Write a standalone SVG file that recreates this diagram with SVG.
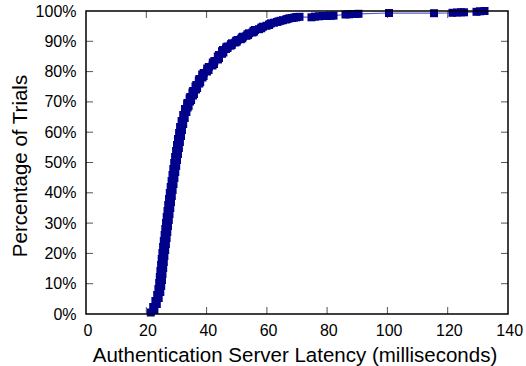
<svg xmlns="http://www.w3.org/2000/svg" width="526" height="366" viewBox="0 0 526 366">
<style>
text{font-family:"Liberation Sans",Arial,sans-serif;fill:#000}
.tk{font-size:16px}
.ax{font-size:20.5px}
.tick{stroke:#555;stroke-width:1;fill:none}
.frame{stroke:#000;stroke-width:1.5;fill:none}
.series{stroke:#5a5ac8;stroke-width:1.2;fill:none;marker-start:url(#sq);marker-mid:url(#sq);marker-end:url(#sq)}
</style>
<defs>
<marker id="sq" markerUnits="userSpaceOnUse" markerWidth="8" markerHeight="8" refX="4" refY="4" overflow="visible">
<rect width="8" height="8" fill="#00008b"/>
</marker>
</defs>
<rect width="526" height="366" fill="#fff"/>
<g id="ticks" class="tick">
<path d="M146.3 314v-7M206.6 314v-7M266.9 314v-7M327.1 314v-7M387.4 314v-7M447.7 314v-7M146.3 11v7M206.6 11v7M266.9 11v7M327.1 11v7M387.4 11v7M447.7 11v7"/>
<path d="M86 283.7h7M86 253.4h7M86 223.1h7M86 192.8h7M86 162.5h7M86 132.2h7M86 101.9h7M86 71.6h7M86 41.3h7M508 283.7h-7M508 253.4h-7M508 223.1h-7M508 192.8h-7M508 162.5h-7M508 132.2h-7M508 101.9h-7M508 71.6h-7M508 41.3h-7"/>
</g>
<g id="connectors">
<polyline class="series" points="150.8,312.5 154.4,310 153.2,307 156.8,304 155.4,301 158.7,298 157.2,295 160.3,292 158.4,289 161.2,286 159.2,283 162,280 159.8,277 162.5,274 160.4,271 163.2,268 161.1,265 163.8,262 161.7,259 164.4,256 162.4,253 165.2,250 163.1,247 165.9,244 163.8,241 166.6,238 164.6,235 167.3,232 165.3,229 168,226 166,223 168.8,220 166.7,217 169.5,214 167.5,211 170.3,208 168.2,205 171,202 169,199 171.8,196 169.8,193 172.6,190 170.7,187 173.5,184 171.6,181 174.4,178 172.5,175 175.3,172 173.3,169 176.2,166 174.2,163 177,160 175.1,157 178,154 176.1,151 178.9,148 177,145 179.9,142 178,139 181,136 179.1,133 182,130 180.1,127 183.2,124 181.6,121 184.7,118 183.2,115 186.4,112 185.6,110.5 185,109 187.6,107.5 188.6,106 187.2,104.5 187.4,103 190,101.5 191.1,100 189.6,98.5 190.2,97 193,95.5 194,94 192.4,92.5 193.1,91 196,89.5 197.1,88 195.5,86.5 196.3,85 199.3,83.5 200.2,82 198.8,80.5 199.4,79 202.5,77.5 203.6,76 202.2,74.5 203.7,73 207,71.5 208.5,70 207.2,68.5 208.8,67 212.5,65.5 214,64 212.8,62.5 214.4,61 218,59.5 219,58 217.8,56.5 219,55 222,53.8 223.4,52.5 222,51.2 223,50 226,49 227.5,48 226.3,47.2 227.5,46.5 230.5,45.7 231.7,45 231,44.2 232,43.3 235.3,42.5 236.7,41.7 236.2,40.8 237.5,40 240.8,39.2 242.2,38.3 241.8,37.5 243,36.7 246.5,35.8 248,35 247.5,34.2 249,33.3 252.5,32.5 254,31.7 253.5,30.8 255,30 259,29.2 261,28.3 261.5,27.5 263,26.7 266.5,25.8 269,25 269.5,24.2 271,23.3 274,22.7 277,22 278.5,21.4 280.5,20.8 283,20.2 286,19.5 287.5,18.9 289.5,18.3 292,18 294,17.6 296,17.3 297,17 299.5,16.8 311.5,17.3 315,16.6 319,16.3 323,16 327,16 331,15.8 333.5,15.6 345.5,14.5 349,14.3 352,14 355.5,14 358.5,13.8 389,13 434,13.2 452.5,12.8 457,12.5 461,12.3 464,12.3 476.5,11.8 480,11.3 484.5,11"/>
</g>
<g id="frame"><rect class="frame" x="86" y="11" width="422" height="303"/></g>
<g id="y-tick-labels" class="tk" text-anchor="end">
<text x="76.5" y="319.5">0%</text>
<text x="76.5" y="289.2">10%</text>
<text x="76.5" y="258.9">20%</text>
<text x="76.5" y="228.6">30%</text>
<text x="76.5" y="198.3">40%</text>
<text x="76.5" y="168">50%</text>
<text x="76.5" y="137.7">60%</text>
<text x="76.5" y="107.4">70%</text>
<text x="76.5" y="77.1">80%</text>
<text x="76.5" y="46.8">90%</text>
<text x="76.5" y="16.5">100%</text>
</g>
<g id="x-tick-labels" class="tk" text-anchor="middle">
<text x="88" y="336">0</text>
<text x="148" y="336">20</text>
<text x="208.3" y="336">40</text>
<text x="268.6" y="336">60</text>
<text x="328.8" y="336">80</text>
<text x="389.1" y="336">100</text>
<text x="449.4" y="336">120</text>
<text x="509.7" y="336">140</text>
</g>
<g id="axis-labels" class="ax" text-anchor="middle">
<text x="295" y="362">Authentication Server Latency (milliseconds)</text>
<text transform="translate(26.5 166) rotate(-90)">Percentage of Trials</text>
</g>
</svg>
